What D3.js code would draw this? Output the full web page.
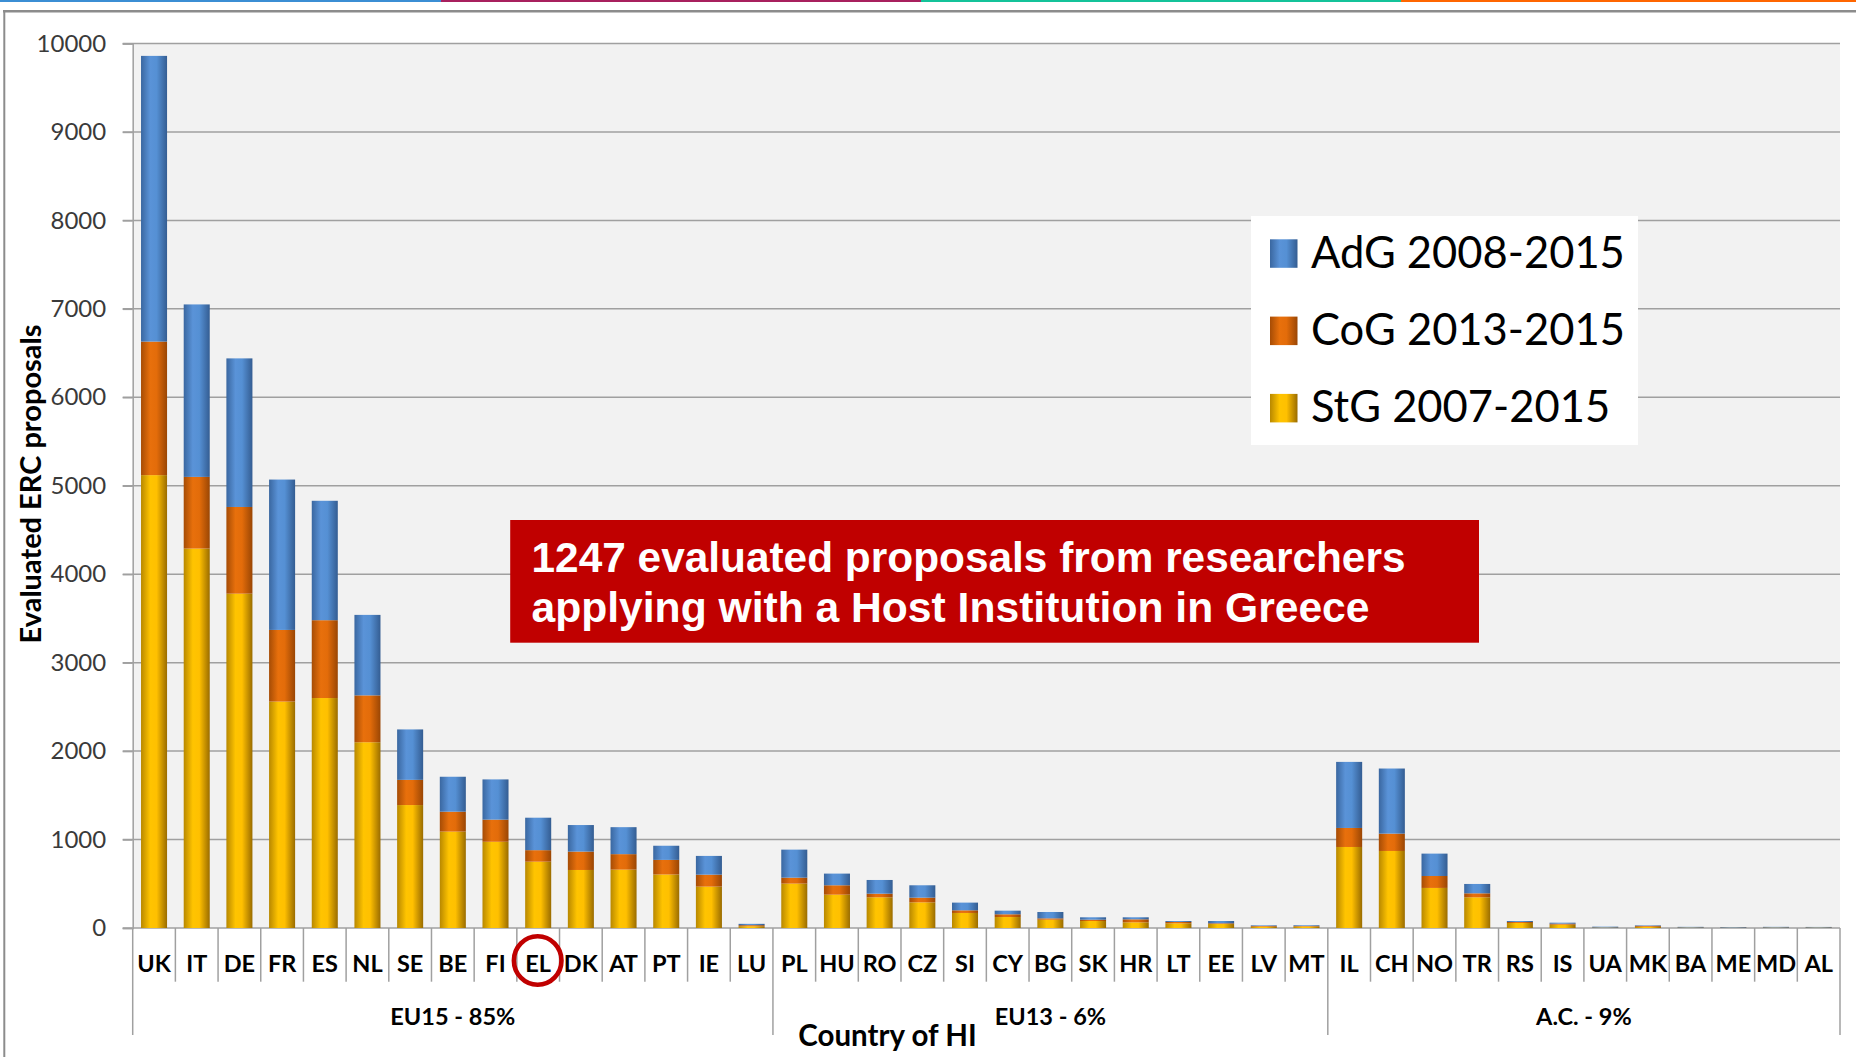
<!DOCTYPE html>
<html><head><meta charset="utf-8">
<script src="https://cdn.jsdelivr.net/npm/d3@7"></script>
<style>body{margin:0;background:#fff;overflow:hidden} svg{display:block}</style>
</head><body>
<svg id="chart" width="1856" height="1057"></svg>
<script>
// ---------------- data ----------------
const categories = ["UK","IT","DE","FR","ES","NL","SE","BE","FI","EL","DK","AT","PT","IE","LU",
  "PL","HU","RO","CZ","SI","CY","BG","SK","HR","LT","EE","LV","MT",
  "IL","CH","NO","TR","RS","IS","UA","MK","BA","ME","MD","AL"];
const stgValues = [5120,4290,3780,2560,2600,2100,1390,1090,975,750,656,660,605,468,20,
  502,377,347,290,170,124,94,79,64,53,45,15,17,
  916,871,453,347,57,38,4,14,4,3,4,4];
const cogValues = [1510,810,980,810,880,530,285,225,250,130,208,175,165,135,12,
  67,106,41,53,30,31,15,15,34,15,8,8,6,
  215,196,135,45,11,11,2,10,2,2,2,2];
const adgValues = [3230,1950,1680,1700,1350,910,570,395,455,367,300,305,160,212,15,
  317,132,155,140,87,41,72,27,23,11,26,7,8,
  747,736,253,106,11,11,9,6,7,6,7,6];
const seriesKeys = ["stg","cog","adg"];
const seriesNames = {stg:"StG 2007-2015", cog:"CoG 2013-2015", adg:"AdG 2008-2015"};
const legendOrder = ["adg","cog","stg"];
const groupLabels = ["EU15 - 85%","EU13 - 6%","A.C. - 9%"];
const groupSizes = [15,13,12];
const yTicks = [0,1000,2000,3000,4000,5000,6000,7000,8000,9000,10000];
const yTitle = "Evaluated ERC proposals";
const xTitle = "Country of HI";
const highlighted = "EL";
const noteLines = ["1247 evaluated proposals from researchers","applying with a Host Institution in Greece"];

// ---------------- layout ----------------
const svg = d3.select("#chart");
const plotLeft = 132.7, plotRight = 1840, yTop = 43.5, yBase = 928;
const FONT = "Lato, 'Open Sans', sans-serif";

const table = categories.map((c,i)=>({cat:c, stg:stgValues[i], cog:cogValues[i], adg:adgValues[i]}));

const x = d3.scaleBand().domain(categories).range([plotLeft, plotRight]).paddingInner(0.39).paddingOuter(0.195);
const xSlot = d3.scaleBand().domain(categories).range([plotLeft, plotRight]).padding(0);
const y = d3.scaleLinear().domain([0,10000]).range([yBase, yTop]);

// gradients
const colors = {
  adg: ["#3a67a0","#5a93d8","#5590d4","#345d92"],
  cog: ["#a64c05","#e8700c","#e36c0a","#9a4604"],
  stg: ["#b88800","#ffc400","#ffc000","#9a6c00"]
};
const defs = svg.append("defs");
Object.entries(colors).forEach(([k,c])=>{
  const g = defs.append("linearGradient").attr("id","g-"+k).attr("x1","0").attr("x2","1").attr("y1","0").attr("y2","0");
  g.append("stop").attr("offset","0").attr("stop-color",c[0]);
  g.append("stop").attr("offset","0.35").attr("stop-color",c[1]);
  g.append("stop").attr("offset","0.6").attr("stop-color",c[2]);
  g.append("stop").attr("offset","1").attr("stop-color",c[3]);
});

// top colour strip
const strip = [[0,441,"#3b8ed4"],[441,921,"#a8205e"],[921,1401,"#14c39a"],[1401,1856,"#ff6600"]];
svg.selectAll("rect.strip").data(strip).enter().append("rect").attr("class","strip")
  .attr("x",d=>d[0]).attr("y",0).attr("width",d=>d[1]-d[0]).attr("height",2).attr("fill",d=>d[2]);

// frame
svg.append("line").attr("x1",3).attr("x2",1856).attr("y1",11.3).attr("y2",11.3).attr("stroke","#8c8c8c").attr("stroke-width",2.5);
svg.append("line").attr("x1",4.3).attr("x2",4.3).attr("y1",10).attr("y2",1057).attr("stroke","#8c8c8c").attr("stroke-width",2);

// plot background
svg.append("rect").attr("x",plotLeft).attr("y",yTop).attr("width",plotRight-plotLeft).attr("height",yBase-yTop).attr("fill","#f2f2f2");

// gridlines
svg.append("g").selectAll("line").data(yTicks).enter().append("line")
  .attr("x1",plotLeft-10).attr("x2",plotRight).attr("y1",d=>y(d)).attr("y2",d=>y(d))
  .attr("stroke","#a0a0a0").attr("stroke-width",1.5);

// y axis
const yAxis = svg.append("g").attr("transform",`translate(${plotLeft},0)`)
  .call(d3.axisLeft(y).tickValues(yTicks).tickSize(10).tickPadding(16.5).tickFormat(d3.format("d")));
yAxis.select(".domain").attr("stroke","#a0a0a0").attr("stroke-width",1.5);
yAxis.selectAll(".tick line").attr("stroke","#a0a0a0").attr("stroke-width",1.5);
yAxis.selectAll(".tick text").attr("font-family",FONT).attr("font-size",24).attr("fill","#3a3a3a");

// bars
const stacked = d3.stack().keys(seriesKeys)(table);
svg.append("g").selectAll("g").data(stacked).enter().append("g")
  .attr("fill",d=>`url(#g-${d.key})`)
  .selectAll("rect").data(d=>d).enter().append("rect")
  .attr("x",d=>x(d.data.cat)).attr("width",x.bandwidth())
  .attr("y",d=>y(d[1])).attr("height",d=>y(d[0])-y(d[1]));

// category axis lines
const boundaries = categories.map(c=>xSlot(c)).concat([plotRight]);
let groupBounds = [0]; groupSizes.reduce((a,s)=>{groupBounds.push(a+s); return a+s;},0);
svg.append("g").selectAll("line").data(boundaries).enter().append("line")
  .attr("x1",d=>d).attr("x2",d=>d).attr("y1",yBase)
  .attr("y2",(d,i)=>groupBounds.includes(i)?1035:981.7)
  .attr("stroke","#a0a0a0").attr("stroke-width",1.5);

// category labels
svg.append("g").selectAll("text").data(categories).enter().append("text")
  .attr("x",d=>xSlot(d)+xSlot.bandwidth()/2).attr("y",972)
  .attr("text-anchor","middle").attr("font-family",FONT).attr("font-weight","bold")
  .attr("font-size",23.5).attr("fill","#000").text(d=>d);

// highlight circle
svg.append("ellipse").attr("cx",xSlot(highlighted)+xSlot.bandwidth()/2 - 0.5).attr("cy",960.5)
  .attr("rx",23.8).attr("ry",24.2).attr("fill","none").attr("stroke","#c00000").attr("stroke-width",4.6);

// group labels
svg.append("g").selectAll("text").data(groupLabels).enter().append("text")
  .attr("x",(d,i)=>(boundaries[groupBounds[i]]+boundaries[groupBounds[i+1]])/2).attr("y",1025)
  .attr("text-anchor","middle").attr("font-family",FONT).attr("font-weight","bold")
  .attr("font-size",23.5).attr("fill","#000").text(d=>d);

// axis titles
svg.append("text").attr("x",887.5).attr("y",1046).attr("text-anchor","middle")
  .attr("font-family",FONT).attr("font-weight","bold").attr("font-size",29.5).attr("fill","#000").text(xTitle);
svg.append("text").attr("transform","translate(41,484) rotate(-90)").attr("text-anchor","middle")
  .attr("font-family",FONT).attr("font-weight","bold").attr("font-size",29).attr("fill","#000").text(yTitle);

// legend
const lg = svg.append("g");
lg.append("rect").attr("x",1251).attr("y",216).attr("width",387).attr("height",229).attr("fill","#fff");
const li = lg.selectAll("g.li").data(legendOrder).enter().append("g").attr("class","li")
  .attr("transform",(d,i)=>`translate(1270,${239.3+i*77.3})`);
li.append("rect").attr("width",27.5).attr("height",28.5).attr("fill",d=>`url(#g-${d})`);
li.append("text").attr("x",41).attr("y",28.4).attr("font-family",FONT).attr("font-size",43.5).attr("fill","#000")
  .text(d=>seriesNames[d]);

// note box
svg.append("rect").attr("x",510.2).attr("y",520).attr("width",968.8).attr("height",122.7).attr("fill","#c00000");
const noteLen = [874,838];
svg.selectAll("text.note").data(noteLines).enter().append("text").attr("class","note")
  .attr("x",531.5).attr("y",(d,i)=>571.7+i*50)
  .attr("font-family","'Liberation Sans', Arial, sans-serif").attr("font-weight","bold").attr("font-size",42)
  .attr("fill","#fff").attr("textLength",(d,i)=>noteLen[i]).attr("lengthAdjust","spacingAndGlyphs").text(d=>d);
</script>
</body></html>
